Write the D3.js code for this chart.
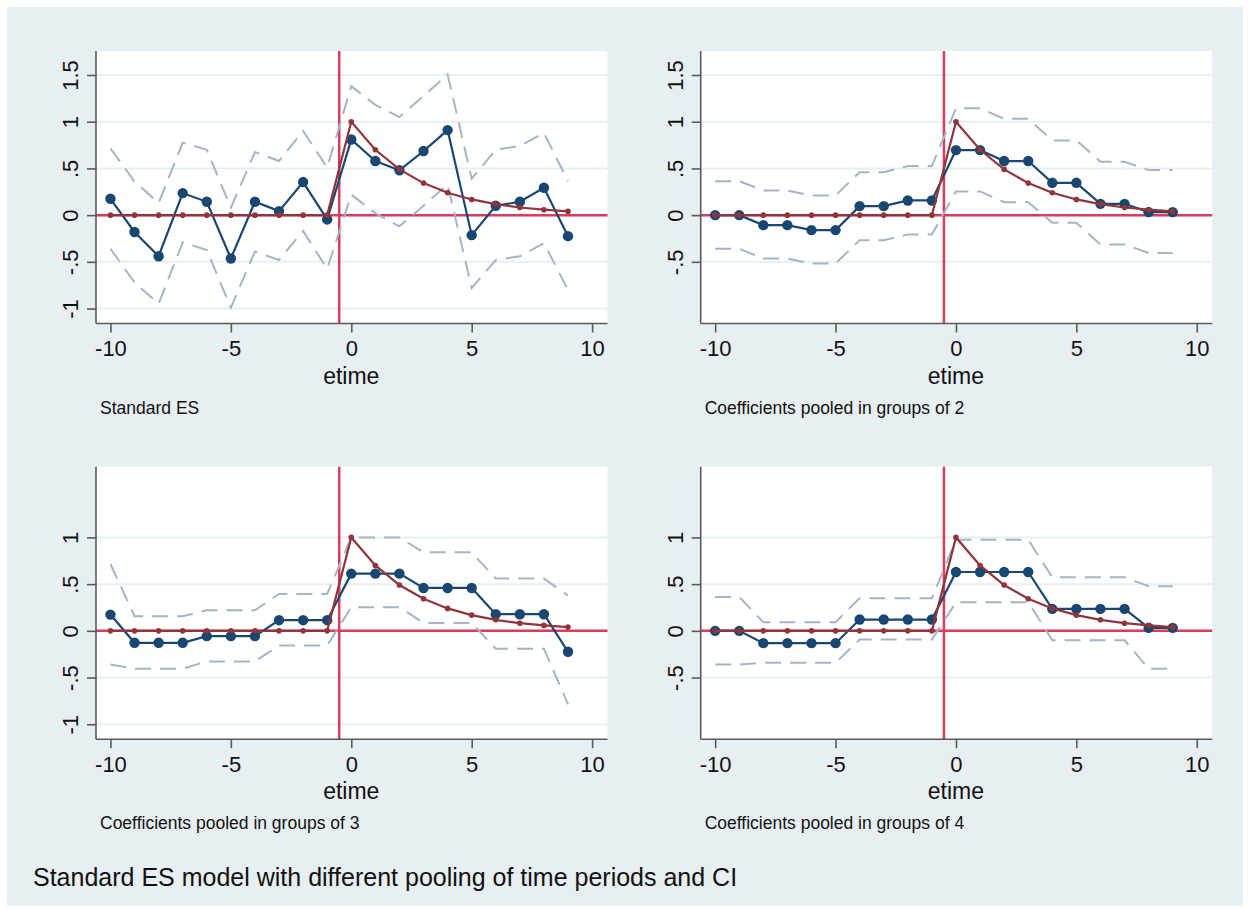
<!DOCTYPE html>
<html>
<head>
<meta charset="utf-8">
<script src="https://cdn.jsdelivr.net/npm/d3@7"></script>
<style>
  html, body { margin: 0; padding: 0; background: #ffffff; }
  svg { display: block; }
  text { font-family: "Liberation Sans", Arial, sans-serif; fill: #111; }
</style>
</head>
<body>
<svg id="chart" width="1250" height="909"></svg>
<script>
// Event time
const etime = [-10, -9, -8, -7, -6, -5, -4, -3, -2, -1, 0, 1, 2, 3, 4, 5, 6, 7, 8, 9];

// True treatment effect path (same in every panel)
const trueEffect = [0, 0, 0, 0, 0, 0, 0, 0, 0, 0, 1, 0.7, 0.49, 0.343, 0.24, 0.168, 0.118, 0.082, 0.058, 0.04];

// Standard ES: estimates and 95% CI
const esStandard = [0.175, -0.18, -0.44, 0.236, 0.143, -0.464, 0.143, 0.043, 0.354, -0.046,
                    0.81, 0.58, 0.48, 0.686, 0.91, -0.214, 0.10, 0.143, 0.293, -0.225];
const ciStandardHi = [0.714, 0.36, 0.13, 0.775, 0.70, 0.08, 0.675, 0.58, 0.90, 0.51,
                      1.38, 1.18, 1.05, 1.275, 1.507, 0.39, 0.70, 0.74, 0.88, 0.364];
const ciStandardLo = [-0.36, -0.72, -0.95, -0.29, -0.375, -0.99, -0.39, -0.48, -0.17, -0.575,
                      0.22, 0.02, -0.12, 0.10, 0.33, -0.78, -0.48, -0.44, -0.30, -0.80];

// Pooled in groups of 2
const esPool2 = [0, 0, -0.107, -0.107, -0.16, -0.16, 0.096, 0.096, 0.157, 0.157,
                 0.696, 0.696, 0.579, 0.579, 0.346, 0.346, 0.121, 0.121, 0.032, 0.032];
const ciPool2Hi = [0.364, 0.364, 0.264, 0.264, 0.21, 0.21, 0.46, 0.46, 0.525, 0.525,
                   1.143, 1.143, 1.032, 1.032, 0.80, 0.80, 0.571, 0.571, 0.482, 0.482];
const ciPool2Lo = [-0.36, -0.36, -0.464, -0.464, -0.518, -0.518, -0.268, -0.268, -0.207, -0.207,
                   0.254, 0.254, 0.139, 0.139, -0.082, -0.082, -0.314, -0.314, -0.404, -0.404];

// Pooled in groups of 3
const esPool3 = [0.174, -0.128, -0.128, -0.128, -0.057, -0.057, -0.057, 0.114, 0.114, 0.114,
                 0.612, 0.612, 0.612, 0.459, 0.459, 0.459, 0.178, 0.178, 0.178, -0.224];
const ciPool3Hi = [0.715, 0.157, 0.157, 0.157, 0.22, 0.22, 0.22, 0.395, 0.395, 0.395,
                   1.0, 1.0, 1.0, 0.84, 0.84, 0.84, 0.559, 0.559, 0.559, 0.377];
const ciPool3Lo = [-0.36, -0.406, -0.406, -0.406, -0.327, -0.327, -0.327, -0.157, -0.157, -0.157,
                   0.253, 0.253, 0.253, 0.085, 0.085, 0.085, -0.192, -0.192, -0.192, -0.786];

// Pooled in groups of 4
const esPool4 = [0, 0, -0.132, -0.132, -0.132, -0.132, 0.121, 0.121, 0.121, 0.121,
                 0.63, 0.63, 0.63, 0.63, 0.235, 0.235, 0.235, 0.235, 0.032, 0.032];
const ciPool4Hi = [0.363, 0.363, 0.093, 0.093, 0.093, 0.093, 0.349, 0.349, 0.349, 0.349,
                   0.975, 0.975, 0.975, 0.975, 0.573, 0.573, 0.573, 0.573, 0.477, 0.477];
const ciPool4Lo = [-0.36, -0.36, -0.342, -0.342, -0.342, -0.342, -0.093, -0.093, -0.093, -0.093,
                   0.306, 0.306, 0.306, 0.306, -0.10, -0.10, -0.10, -0.10, -0.406, -0.406];

// Axis ticks
const xTicks = [-10, -5, 0, 5, 10];
const yTicksA = [-1, -0.5, 0, 0.5, 1, 1.5];
const yTicksB = [-0.5, 0, 0.5, 1, 1.5];
const yTicksC = [-1, -0.5, 0, 0.5, 1];
const yTicksD = [-0.5, 0, 0.5, 1];

const panelNotes = ["Standard ES", "Coefficients pooled in groups of 2",
                    "Coefficients pooled in groups of 3", "Coefficients pooled in groups of 4"];
const caption = "Standard ES model with different pooling of time periods and CI";
const xTitle = "etime";

const panels = [
  { note: panelNotes[0], est: esStandard, hi: ciStandardHi, lo: ciStandardLo, yTicks: yTicksA, left: 96,  top: 51 },
  { note: panelNotes[1], est: esPool2,    hi: ciPool2Hi,    lo: ciPool2Lo,    yTicks: yTicksB, left: 700.7, top: 51 },
  { note: panelNotes[2], est: esPool3,    hi: ciPool3Hi,    lo: ciPool3Lo,    yTicks: yTicksC, left: 96,  top: 466.7 },
  { note: panelNotes[3], est: esPool4,    hi: ciPool4Hi,    lo: ciPool4Lo,    yTicks: yTicksD, left: 700.7, top: 466.7 }
];

const plotW = 511.5, plotH = 272.5;
const col = {
  bg: "#e8eff2", grid: "#e6eff1", axis: "#5a5a5a", ref: "#dc3b5c",
  est: "#1a476f", truth: "#90353b", ci: "#a3b5c8"
};

const fmtTick = v => {
  if (v === 0) return "0";
  const s = String(v);
  return s.replace(/^(-?)0\./, "$1.");
};

const svg = d3.select("#chart");

// graph region background
svg.append("rect").attr("x", 7).attr("y", 7).attr("width", 1236).attr("height", 899).attr("fill", col.bg);

panels.forEach(p => {
  const x = d3.scaleLinear().domain([-10.6, 10.64]).range([p.left, p.left + plotW]);
  const y = d3.scaleLinear().domain([-1.16, 1.757]).range([p.top + plotH, p.top]);
  const g = svg.append("g");

  // plot region
  g.append("rect").attr("x", p.left).attr("y", p.top).attr("width", plotW).attr("height", plotH).attr("fill", "#ffffff");

  // horizontal grid lines
  g.selectAll(".grid").data(p.yTicks).join("line")
    .attr("x1", p.left).attr("x2", p.left + plotW)
    .attr("y1", d => y(d)).attr("y2", d => y(d))
    .attr("stroke", col.grid).attr("stroke-width", 2);

  // reference lines at event date and zero
  g.append("line").attr("x1", p.left).attr("x2", p.left + plotW)
    .attr("y1", y(0)).attr("y2", y(0)).attr("stroke", col.ref).attr("stroke-width", 2.5);
  g.append("line").attr("x1", x(-0.5)).attr("x2", x(-0.5))
    .attr("y1", p.top).attr("y2", p.top + plotH).attr("stroke", col.ref).attr("stroke-width", 2.5);

  const line = vals => d3.line().x((d, i) => x(etime[i])).y(d => y(d))(vals);

  // confidence bands
  [p.hi, p.lo].forEach(vals => {
    g.append("path").attr("d", line(vals)).attr("fill", "none")
      .attr("stroke", col.ci).attr("stroke-width", 2).attr("stroke-dasharray", "16,9");
  });

  // estimates
  g.append("path").attr("d", line(p.est)).attr("fill", "none")
    .attr("stroke", col.est).attr("stroke-width", 2.2);
  g.selectAll(".est").data(p.est).join("circle")
    .attr("cx", (d, i) => x(etime[i])).attr("cy", d => y(d)).attr("r", 5.2).attr("fill", col.est);

  // true effect
  g.append("path").attr("d", line(trueEffect)).attr("fill", "none")
    .attr("stroke", col.truth).attr("stroke-width", 2.2);
  g.selectAll(".truth").data(trueEffect).join("circle")
    .attr("cx", (d, i) => x(etime[i])).attr("cy", d => y(d)).attr("r", 2.8).attr("fill", col.truth);

  // axes
  const xAxis = g.append("g").attr("transform", `translate(0,${p.top + plotH})`)
    .call(d3.axisBottom(x).tickValues(xTicks).tickSize(9).tickPadding(8).tickFormat(d => String(d)));
  xAxis.select(".domain").attr("d", `M${p.left},0H${p.left + plotW}`).attr("stroke", col.axis).attr("stroke-width", 1.6);
  xAxis.selectAll(".tick line").attr("stroke", col.axis).attr("stroke-width", 1.6);
  xAxis.selectAll(".tick text").attr("font-size", 22).attr("fill", "#111")
    .attr("font-family", "Liberation Sans, Arial, sans-serif").attr("dy", "0.72em");

  const yAxis = g.append("g").attr("transform", `translate(${p.left},0)`)
    .call(d3.axisLeft(y).tickValues(p.yTicks).tickSize(9).tickFormat(fmtTick));
  yAxis.select(".domain").attr("d", `M0,${p.top}V${p.top + plotH}`).attr("stroke", col.axis).attr("stroke-width", 1.6);
  yAxis.selectAll(".tick line").attr("stroke", col.axis).attr("stroke-width", 1.6);
  yAxis.selectAll(".tick text")
    .attr("font-size", 22).attr("fill", "#111")
    .attr("font-family", "Liberation Sans, Arial, sans-serif")
    .attr("x", null).attr("dy", null)
    .attr("text-anchor", "middle")
    .attr("transform", "translate(-18,0) rotate(-90)");

  // axis title
  g.append("text").attr("x", x(0)).attr("y", p.top + plotH + 60)
    .attr("text-anchor", "middle").attr("font-size", 23).text(xTitle);

  // panel note
  g.append("text").attr("x", p.left + 4).attr("y", p.top + plotH + 90)
    .attr("font-size", 17.5).text(p.note);
});

// overall note
svg.append("text").attr("x", 33).attr("y", 886).attr("font-size", 25).text(caption);
</script>
</body>
</html>
